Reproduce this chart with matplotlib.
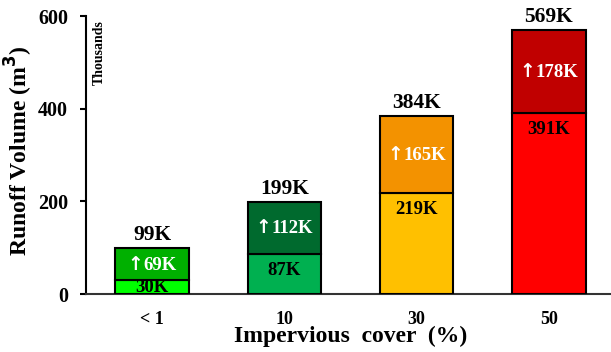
import matplotlib
matplotlib.use("Agg")
import matplotlib.pyplot as plt
import numpy as np
from matplotlib.offsetbox import TextArea, HPacker, AnnotationBbox

categories = ["< 1", "10", "30", "50"]
base_volume = [30, 87, 219, 391]        # thousand m3, before development
added_volume = [69, 112, 165, 178]      # thousand m3, increase
total_volume = [99, 199, 384, 569]      # thousand m3
base_colors = ["#00FF00", "#00B050", "#FFC000", "#FF0000"]
added_colors = ["#00B000", "#006A2E", "#F39200", "#C00000"]

plt.rcParams["font.family"] = ["Liberation Serif", "DejaVu Serif"]
plt.rcParams["font.weight"] = "bold"

fig = plt.figure(figsize=(6.11, 3.52), dpi=100)
ax = fig.add_axes([86 / 611, 58 / 352, 529 / 611, 278 / 352])

x = np.arange(len(categories))
w = 0.555
ax.bar(x, base_volume, width=w, color=base_colors, edgecolor="black", linewidth=1.5, zorder=3)
ax.bar(x, added_volume, width=w, bottom=base_volume, color=added_colors,
       edgecolor="black", linewidth=1.5, zorder=3)

for i in range(len(categories)):
    b, a, t = base_volume[i], added_volume[i], total_volume[i]
    ypos = b - 37 if b - 37 > b / 2 else b / 2
    ax.text(x[i], ypos, f"{b}K", ha="center", va="center", fontsize=13.5,
            fontweight="bold", color="black", zorder=4)
    # white "up arrow + increase" label inside the upper segment
    arrow = TextArea("\u2191", textprops=dict(family="DejaVu Sans", fontweight="bold",
                                                fontsize=13.5, color="white"))
    num = TextArea(f"{a}K", textprops=dict(fontweight="bold", fontsize=13.5, color="white"))
    box = HPacker(children=[arrow, num], align="baseline", pad=0, sep=0)
    ab = AnnotationBbox(box, (x[i], b + a / 2), frameon=False, box_alignment=(0.5, 0.5),
                        zorder=4)
    ax.add_artist(ab)
    ax.text(x[i], t + 7, f"{t}K", ha="center", va="bottom", fontsize=15.5,
            fontweight="bold", color="black", zorder=4)

ax.set_xlim(-0.5, 3.5)
ax.set_ylim(0, 600)
ax.set_yticks([0, 200, 400, 600])
ax.set_xticks(x)
ax.set_xticklabels(categories)
ax.tick_params(axis="y", labelsize=14.5, direction="out", length=4, width=1.5, pad=9)
ax.tick_params(axis="x", labelsize=13, length=0, pad=12)
for lbl in ax.get_xticklabels() + ax.get_yticklabels():
    lbl.set_fontweight("bold")

for s in ["top", "right"]:
    ax.spines[s].set_visible(False)
ax.spines["left"].set_linewidth(1.5)
ax.spines["bottom"].set_linewidth(1.5)
ax.spines["bottom"].set_color("#333333")

ax.set_ylabel("Runoff Volume (m$^\\mathbf{3}$)", fontsize=17, fontweight="bold")
ax.yaxis.set_label_coords(-0.096, 0.515)
ax.set_xlabel("Impervious  cover  (%)", fontsize=17, fontweight="bold", labelpad=-1)

ax.text(0.012, 0.985, "Thousands", transform=ax.transAxes, rotation=90,
        ha="left", va="top", fontsize=10, fontweight="bold")

fig.savefig("out.png", dpi=100)
